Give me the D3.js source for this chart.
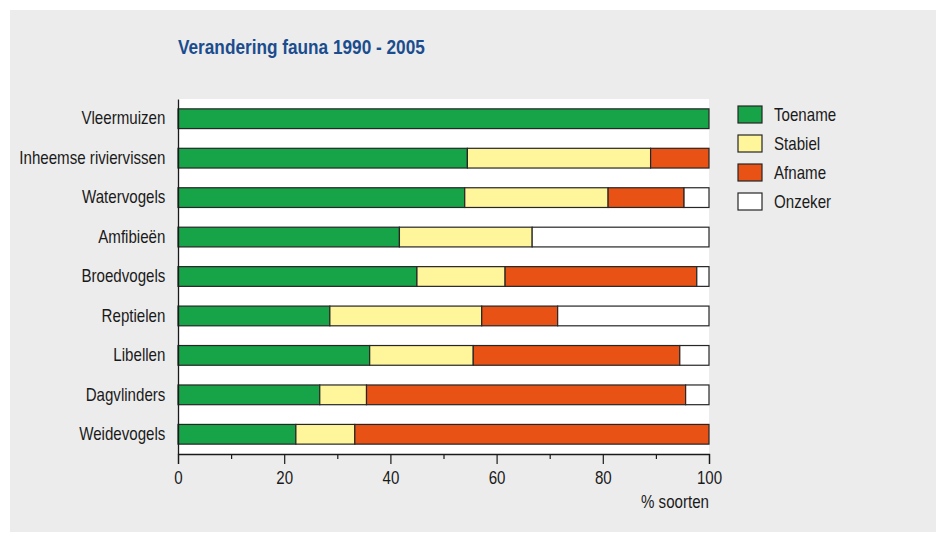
<!DOCTYPE html>
<html>
<head>
<meta charset="utf-8">
<script src="https://cdn.jsdelivr.net/npm/d3@7"></script>
<style>
  body { margin: 0; background: #fff; }
  svg { display: block; font-family: "Liberation Sans", Arial, sans-serif; }
</style>
</head>
<body>
<svg id="chart"></svg>
<script>
// data (% of species)
var categories = ["Vleermuizen", "Inheemse riviervissen", "Watervogels", "Amfibieën",
  "Broedvogels", "Reptielen", "Libellen", "Dagvlinders", "Weidevogels"];
var toename = [100, 54.5, 54, 41.7, 45, 28.6, 36.1, 26.7, 22.2];
var stabiel = [0, 34.5, 27, 25, 16.6, 28.6, 19.5, 8.8, 11.1];
var afname = [0, 11, 14.3, 0, 36.1, 14.3, 38.9, 60.1, 66.7];
var onzeker = [0, 0, 4.7, 33.3, 2.3, 28.5, 5.5, 4.4, 0];
var seriesNames = ["Toename", "Stabiel", "Afname", "Onzeker"];
var xTickValues = [0, 10, 20, 30, 40, 50, 60, 70, 80, 90, 100];
var xLabelled = [0, 20, 40, 60, 80, 100];

var colors = { Toename: "#17a348", Stabiel: "#fff59b", Afname: "#e85215", Onzeker: "#ffffff" };
var narrow = 0.84; // squeeze text to look like a narrow sans

var svgWidth = 937, svgHeight = 534;
var margin = { top: 99, left: 178 };
var width = 709 - 178, height = 454 - 99;

var svg = d3.select("#chart")
  .attr("width", svgWidth)
  .attr("height", svgHeight);

// grey panel
svg.append("rect")
  .attr("x", 10).attr("y", 10)
  .attr("width", 926).attr("height", 522)
  .attr("fill", "#ececec");

function label(parent, x, y, str, size, anchor, weight, fill) {
  parent.append("g")
    .attr("transform", "translate(" + x + "," + y + ") scale(" + narrow + ",1)")
    .append("text")
    .attr("text-anchor", anchor || "start")
    .attr("font-size", size)
    .attr("font-weight", weight || "normal")
    .attr("fill", fill || "#1a1a1a")
    .text(str);
}

// title
label(svg, 178, 54, "Verandering fauna 1990 - 2005", 20.5, "start", "bold", "#1b4d8e");

var g = svg.append("g")
  .attr("transform", "translate(" + margin.left + "," + margin.top + ")");

g.append("rect")
  .attr("width", width).attr("height", height)
  .attr("fill", "#fff");

var x = d3.scaleLinear().domain([0, 100]).range([0, width]);
var y = d3.scaleBand().domain(categories).range([0, height])
  .paddingInner(0.5).paddingOuter(0.25);

var rows = categories.map(function(c, i) {
  return { cat: c, Toename: toename[i], Stabiel: stabiel[i], Afname: afname[i], Onzeker: onzeker[i] };
});
var stacked = d3.stack().keys(seriesNames)(rows);

g.selectAll("g.layer")
  .data(stacked)
  .enter().append("g")
  .attr("class", "layer")
  .attr("fill", function(d) { return colors[d.key]; })
  .selectAll("rect")
  .data(function(d) { return d.filter(function(p) { return p[1] - p[0] > 0; }); })
  .enter().append("rect")
  .attr("x", function(d) { return x(d[0]); })
  .attr("y", function(d) { return y(d.data.cat); })
  .attr("width", function(d) { return x(d[1]) - x(d[0]); })
  .attr("height", y.bandwidth())
  .attr("stroke", "#262626")
  .attr("stroke-width", 1.2);

// x axis
var xAxis = g.append("g")
  .attr("transform", "translate(0," + height + ")")
  .call(d3.axisBottom(x)
    .tickValues(xTickValues)
    .tickSizeOuter(0)
    .tickSize(10)
    .tickPadding(7)
    .tickFormat(function(d) { return xLabelled.indexOf(d) >= 0 ? d : ""; }));
xAxis.select(".domain").attr("stroke", "#1a1a1a").attr("stroke-width", 1.3);
xAxis.selectAll(".tick line")
  .attr("stroke", "#1a1a1a").attr("stroke-width", 1.2)
  .attr("y2", function(d) { return xLabelled.indexOf(d) >= 0 ? 10 : 5; });
xAxis.selectAll(".tick text")
  .attr("font-size", 18).attr("fill", "#1a1a1a")
  .attr("font-family", "Liberation Sans, Arial, sans-serif")
  .attr("transform", "scale(" + narrow + ",1)");

// y axis
var yAxis = g.append("g")
  .call(d3.axisLeft(y).tickSize(0).tickPadding(15));
yAxis.select(".domain").attr("stroke", "#1a1a1a").attr("stroke-width", 1.3);
yAxis.selectAll(".tick text")
  .attr("font-size", 18).attr("fill", "#1a1a1a")
  .attr("font-family", "Liberation Sans, Arial, sans-serif")
  .attr("transform", "scale(" + narrow + ",1)");

// x axis title
label(svg, 709, 508, "% soorten", 18, "end");

// legend
var legend = svg.append("g").attr("transform", "translate(738,106)");
seriesNames.forEach(function(name, i) {
  legend.append("rect")
    .attr("x", 0).attr("y", i * 29)
    .attr("width", 24).attr("height", 17)
    .attr("fill", colors[name])
    .attr("stroke", "#262626").attr("stroke-width", 1.2);
  label(legend, 36, i * 29 + 15, name, 18, "start");
});
</script>
</body>
</html>
